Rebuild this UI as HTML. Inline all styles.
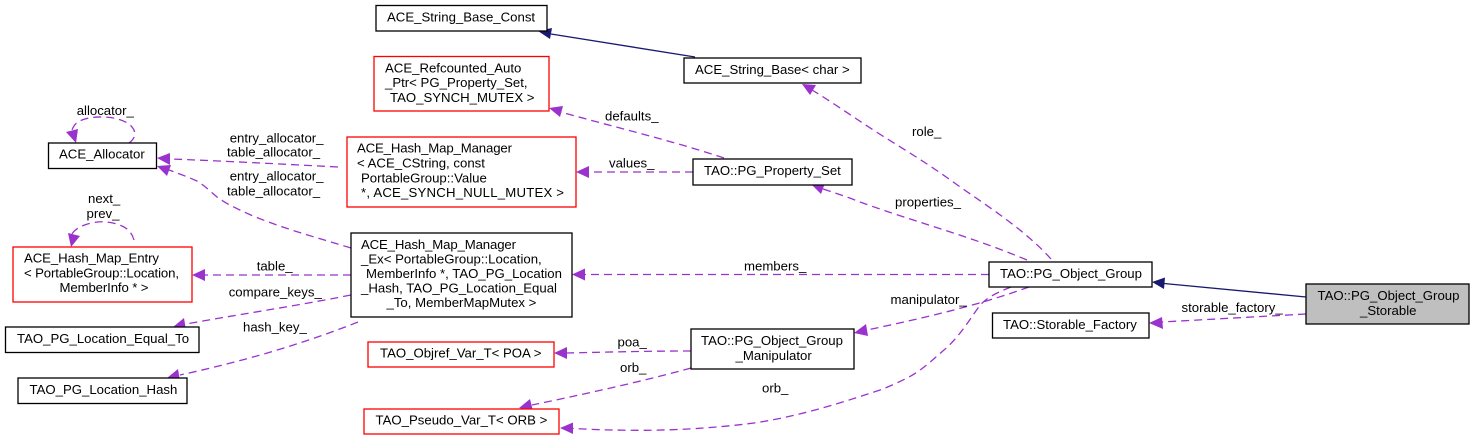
<!DOCTYPE html>
<html><head><meta charset="utf-8"><style>
html,body{margin:0;padding:0;background:#fff;width:1475px;height:440px;overflow:hidden}
svg{display:block}
text{font-family:"Liberation Sans",sans-serif;font-size:13.2px;fill:#000;white-space:pre}
.b{fill:#fff;stroke:#000;stroke-width:1.3}
.r{fill:#fff;stroke:#f00;stroke-width:1.3}
.e{fill:none;stroke:#9a32cd;stroke-width:1.3;stroke-dasharray:8 5}
.s{fill:none;stroke:#191970;stroke-width:1.3}
.ap{fill:#9a32cd;stroke:none}
.ab{fill:#191970;stroke:none}
</style></head><body>
<svg width="1475" height="440" viewBox="0 0 1475 440" xmlns="http://www.w3.org/2000/svg">
<!-- edges -->
<path class="s" d="M1306,297L1164,283.500"/><polygon class="ab" points="1152,282 1165,277.500 1164,289"/>
<path class="s" d="M695,57L551,34"/><polygon class="ab" points="538,31 552,28 550,39"/>
<path class="e" d="M1306,314L1162,322"/><polygon class="ap" points="1149,323 1162,317 1163,329"/>
<path class="e" d="M1051,259C1025,230 990,208 956,184C930,165 905,150 878,133C850,115 835,104 812,90"/><polygon class="ap" points="802,84 816,85 810,95"/>
<path class="e" d="M1027,260C970,236 915,222 860,202C845,196 835,193 823,189"/><polygon class="ap" points="811,184 825,183 821,194"/>
<path class="e" d="M693,172L589,172"/><polygon class="ap" points="576,172 589,166 589,178"/>
<path class="e" d="M724,158C670,140 610,126 561,112"/><polygon class="ap" points="549,108 563,106 560,117"/>
<path class="e" d="M989,274.500L585,274.500"/><polygon class="ap" points="572,274.500 585,268.500 585,280.500"/>
<path class="e" d="M1029,287C1015,292 1000,297 983,302C945,313 905,322 867,330"/><polygon class="ap" points="854,333 866,324 868,336"/>
<path class="e" d="M1011,287C996,293 985,298 978,308C966,325 958,338 944,350C930,362 920,372 905,379C895,384 888,387 880,390C835,405 795,417 754,423C700,430 650,431 616,430C600,430 585,429 573,428.500"/><polygon class="ap" points="560,428 573,422.500 573,434"/>
<path class="e" d="M691,368C640,382 585,394 532,405"/><polygon class="ap" points="519,408 530,399 533,411"/>
<path class="e" d="M691,351C650,351 610,352 567,353"/><polygon class="ap" points="554,353 567,347 567,359"/>
<path class="e" d="M338,167C280,164 225,161 170,159"/><polygon class="ap" points="157,158 170,153 170,165"/>
<path class="e" d="M351,248C318,238 285,229 253,216C235,208 225,203 217,197C210,191 205,186 197,181C188,177 180,174 169,170"/><polygon class="ap" points="157,166 171,165 167,176"/>
<path class="e" d="M351,275L205,275"/><polygon class="ap" points="192,275 205,269 205,281"/>
<path class="e" d="M351,295C290,307 235,315 186,324"/><polygon class="ap" points="173,327 184,318 186,330"/>
<path class="e" d="M358,322C300,345 240,362 180,375"/><polygon class="ap" points="167,378 178,369 180,381"/>
<path class="e" d="M129,143C136,138 137,131 130,125C118,115 95,116 85,119C78,121 74,124 72,130"/><polygon class="ap" points="76,143 66,132 78,129"/>
<path class="e" d="M134,240C131,230 125,226 113,223C100,220 88,223 80,227C76,229 73,232 72,234"/><polygon class="ap" points="71,247 68,233 80,236"/>
<!-- nodes -->
<rect class="b" x="48.500" y="143" width="108" height="25.500"/>
<text x="59" y="158.500">ACE_Allocator</text>
<rect class="r" x="13" y="247" width="179" height="55"/>
<text x="24" y="262.500" textLength="135" lengthAdjust="spacing">ACE_Hash_Map_Entry</text><text x="24" y="277.500" textLength="155" lengthAdjust="spacing">&lt; PortableGroup::Location,</text><text x="59.500" y="292" textLength="89" lengthAdjust="spacing">MemberInfo * &gt;</text>
<rect class="b" x="5.500" y="327" width="193.500" height="25.500"/>
<text x="17" y="343">TAO_PG_Location_Equal_To</text>
<rect class="b" x="18" y="378" width="169" height="25.500"/>
<text x="29.500" y="394">TAO_PG_Location_Hash</text>
<rect class="b" x="376" y="5.500" width="171" height="25.500"/>
<text x="387" y="21.700">ACE_String_Base_Const</text>
<rect class="r" x="374" y="56.500" width="175" height="54.500"/>
<text x="385" y="72.700">ACE_Refcounted_Auto</text><text x="385" y="87">_Ptr&lt; PG_Property_Set,</text><text x="390" y="102">TAO_SYNCH_MUTEX &gt;</text>
<rect class="r" x="347" y="137" width="229" height="70"/>
<text x="357" y="152.700" textLength="155" lengthAdjust="spacing">ACE_Hash_Map_Manager</text><text x="357" y="167.500">&lt; ACE_CString, const</text><text x="361" y="182.500">PortableGroup::Value</text><text x="361" y="197" textLength="203" lengthAdjust="spacing">*, ACE_SYNCH_NULL_MUTEX &gt;</text>
<rect class="b" x="684" y="58" width="177" height="25"/>
<text x="695" y="74">ACE_String_Base&lt; char &gt;</text>
<rect class="b" x="693" y="159" width="159" height="26"/>
<text x="704" y="175">TAO::PG_Property_Set</text>
<rect class="b" x="351" y="233" width="221" height="84"/>
<text x="361" y="249" textLength="155" lengthAdjust="spacing">ACE_Hash_Map_Manager</text><text x="361" y="263.500">_Ex&lt; PortableGroup::Location,</text><text x="366" y="278">MemberInfo *, TAO_PG_Location</text><text x="361" y="292.500">_Hash, TAO_PG_Location_Equal</text><text x="386.500" y="307">_To, MemberMapMutex &gt;</text>
<rect class="r" x="368" y="342" width="186" height="25"/>
<text x="380" y="357.500">TAO_Objref_Var_T&lt; POA &gt;</text>
<rect class="r" x="364" y="409" width="195" height="25"/>
<text x="375.500" y="424.500">TAO_Pseudo_Var_T&lt; ORB &gt;</text>
<rect class="b" x="691" y="329" width="163" height="40"/>
<text x="701" y="345">TAO::PG_Object_Group</text><text x="735.500" y="360">_Manipulator</text>
<rect class="b" x="989" y="262" width="163" height="25"/>
<text x="1000" y="278">TAO::PG_Object_Group</text>
<rect class="b" x="992.500" y="313" width="156.500" height="25"/>
<text x="1003" y="329">TAO::Storable_Factory</text>
<rect x="1306" y="284" width="163" height="40" fill="#bfbfbf" stroke="#000" stroke-width="1.3"/>
<text x="1317.500" y="300">TAO::PG_Object_Group</text><text x="1360" y="315">_Storable</text>
<!-- edge labels -->
<text x="76.700" y="115">allocator_</text>
<text x="229.700" y="142.700">entry_allocator_</text><text x="227" y="156.700">table_allocator_</text>
<text x="229.700" y="180.700">entry_allocator_</text><text x="227" y="195.700">table_allocator_</text>
<text x="88" y="203">next_</text><text x="86.500" y="218">prev_</text>
<text x="256.700" y="270.700">table_</text>
<text x="228.700" y="296.700">compare_keys_</text>
<text x="243" y="331.700">hash_key_</text>
<text x="605" y="120.700">defaults_</text>
<text x="609" y="167.700">values_</text>
<text x="744" y="270.700">members_</text>
<text x="617.500" y="346.700">poa_</text>
<text x="620" y="372">orb_</text>
<text x="762" y="392.700">orb_</text>
<text x="912" y="136">role_</text>
<text x="895" y="206.700">properties_</text>
<text x="890.500" y="304">manipulator_</text>
<text x="1181.500" y="312">storable_factory_</text>
</svg>
</body></html>
